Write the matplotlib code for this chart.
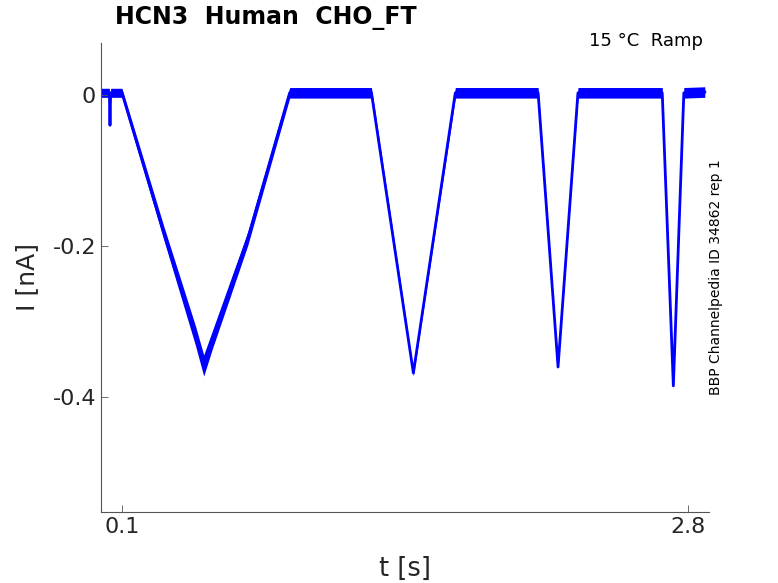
import numpy as np
import matplotlib.pyplot as plt

# trace breakpoints: time [s], current [nA], noise band half-width [nA]
t_pts = [0.0, 0.040, 0.043, 0.046, 0.10, 0.30, 0.45, 0.49, 0.53, 0.70, 0.90,
         1.29, 1.49, 1.69, 2.085, 2.18, 2.275, 2.677, 2.730, 2.780, 2.88]
i_pts = [0.003, 0.003, -0.040, 0.003, 0.003, -0.183, -0.318, -0.358, -0.325, -0.19, 0.003,
         0.003, -0.368, 0.003, 0.003, -0.36, 0.003, 0.003, -0.385, 0.003, 0.004]
band = [0.006, 0.006, 0.002, 0.006, 0.006, 0.009, 0.013, 0.014, 0.012, 0.009, 0.007,
        0.007, 0.004, 0.007, 0.007, 0.002, 0.007, 0.007, 0.002, 0.007, 0.007]

x_ticks = [0.1, 2.8]
x_ticklabels = ['0.1', '2.8']
y_ticks = [-0.4, -0.2, 0]
y_ticklabels = ['-0.4', '-0.2', '0']

plt.rcParams['font.family'] = 'DejaVu Sans'
fig = plt.figure(figsize=(7.78, 5.83), dpi=100)
ax = fig.add_axes([0.1298, 0.1218, 0.7815, 0.8045])

t = np.array(t_pts)
cur = np.array(i_pts)
bw = np.array(band)
ax.fill_between(t, cur - bw, cur + bw, color='#0000ff', lw=0)
ax.plot(t, cur, color='#0000ff', lw=2.0)

ax.set_xlim(0.0, 2.9)
ax.set_ylim(-0.552, 0.069)
ax.set_xticks(x_ticks)
ax.set_xticklabels(x_ticklabels)
ax.set_yticks(y_ticks)
ax.set_yticklabels(y_ticklabels)

for s in ['top', 'right']:
    ax.spines[s].set_visible(False)
for s in ['left', 'bottom']:
    ax.spines[s].set_color('#555555')
    ax.spines[s].set_linewidth(0.8)
ax.tick_params(direction='in', length=5, width=0.6, colors='#555555',
               labelsize=16, labelcolor='#262626')

ax.set_xlabel('t [s]', fontsize=18.5, color='#262626', labelpad=14)
ax.set_ylabel('I [nA]', fontsize=18, color='#262626', labelpad=10)

fig.text(115 / 778, 1 - 18 / 583, 'HCN3  Human  CHO_FT', fontsize=17, fontweight='bold',
         ha='left', va='center', color='black')
fig.text(703 / 778, 1 - 41 / 583, '15 °C  Ramp', fontsize=13, ha='right', va='center',
         color='black')
fig.text(716 / 778, 1 - 277 / 583, 'BBP Channelpedia ID 34862 rep 1', fontsize=10,
         rotation=90, ha='center', va='center', color='black')

fig.savefig('out.png', dpi=100)
